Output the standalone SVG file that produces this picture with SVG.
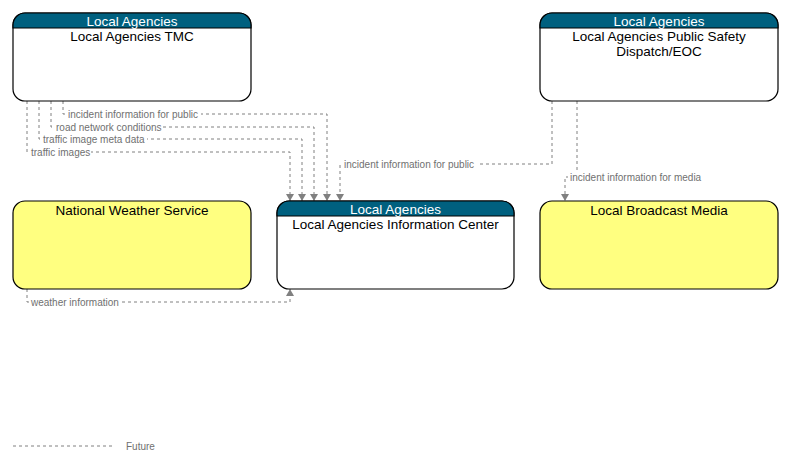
<svg xmlns="http://www.w3.org/2000/svg" width="789" height="465" viewBox="0 0 789 465">
<defs>
<style>
.box{stroke:#000;stroke-width:1.2}
.white{fill:#fff}
.yellow{fill:#ffff80}
.hdr{fill:#00607f}
.ht{font-family:"Liberation Sans",Arial,sans-serif;font-size:13.5px;fill:#fff;text-anchor:middle}
.nt{font-family:"Liberation Sans",Arial,sans-serif;font-size:13.5px;fill:#000;text-anchor:middle}
.fl{fill:none;stroke:#808080;stroke-width:1;stroke-dasharray:3,3}
.lbl{font-family:"Liberation Sans",Arial,sans-serif;font-size:10px;fill:#707070}
.bg{fill:#fff}
</style>
<marker id="arr" viewBox="0 0 8 8" refX="4" refY="8" markerWidth="8" markerHeight="8" markerUnits="userSpaceOnUse">
<path d="M0,1 L8,1 L4,8 z" fill="#808080"/>
</marker>
<marker id="arrUp" viewBox="0 0 8 8" refX="4" refY="0" markerWidth="8" markerHeight="8" markerUnits="userSpaceOnUse">
<path d="M0,7 L8,7 L4,0 z" fill="#808080"/>
</marker>
</defs>
<rect width="789" height="465" fill="#fff"/>

<g id="connectors">
<polyline class="fl" points="63,101 63,114 327,114 327,201" marker-end="url(#arr)"/>
<polyline class="fl" points="51,101 51,127 314,127 314,201" marker-end="url(#arr)"/>
<polyline class="fl" points="39,101 39,139 302,139 302,201" marker-end="url(#arr)"/>
<polyline class="fl" points="27,101 27,152 290,152 290,201" marker-end="url(#arr)"/>
<polyline class="fl" points="552,101 552,164 340,164 340,201" marker-end="url(#arr)"/>
<polyline class="fl" points="577,101 577,177 565,177 565,201" marker-end="url(#arr)"/>
<polyline class="fl" points="27,289 27,302 290,302 290,289" marker-end="url(#arrUp)"/>
<rect class="bg" x="66" y="109" width="135" height="10"/>
<text class="lbl" x="68" y="117.5">incident information for public</text>
<rect class="bg" x="54" y="122" width="108" height="10"/>
<text class="lbl" x="56" y="130.5">road network conditions</text>
<rect class="bg" x="41" y="134" width="106" height="10"/>
<text class="lbl" x="43" y="142.5">traffic image meta data</text>
<rect class="bg" x="29" y="147" width="62" height="10"/>
<text class="lbl" x="31" y="155.5">traffic images</text>
<rect class="bg" x="342" y="159" width="135" height="10"/>
<text class="lbl" x="344" y="167.5">incident information for public</text>
<rect class="bg" x="568" y="172" width="135" height="10"/>
<text class="lbl" x="570" y="180.5">incident information for media</text>
<rect class="bg" x="29" y="297" width="91" height="10"/>
<text class="lbl" x="31" y="305.5">weather information</text>
</g>

<g id="tmc">
<rect class="box white" x="13" y="13" width="238" height="88" rx="12"/>
<path class="box hdr" d="M13,28 L13,25 A12,12 0 0 1 25,13 L239,13 A12,12 0 0 1 251,25 L251,28 Z"/>
<text class="ht" x="132" y="25.5">Local Agencies</text>
<text class="nt" x="132" y="40.5">Local Agencies TMC</text>
</g>

<g id="psd">
<rect class="box white" x="540" y="13" width="238" height="88" rx="12"/>
<path class="box hdr" d="M540,28 L540,25 A12,12 0 0 1 552,13 L766,13 A12,12 0 0 1 778,25 L778,28 Z"/>
<text class="ht" x="659" y="25.5">Local Agencies</text>
<text class="nt" x="659" y="40.5">Local Agencies Public Safety</text>
<text class="nt" x="659" y="55.5">Dispatch/EOC</text>
</g>

<g id="nws">
<rect class="box yellow" x="13" y="201" width="238" height="88" rx="12"/>
<text class="nt" x="132" y="214.5">National Weather Service</text>
</g>

<g id="info">
<rect class="box white" x="277" y="201" width="237" height="88" rx="12"/>
<path class="box hdr" d="M277,216 L277,213 A12,12 0 0 1 289,201 L502,201 A12,12 0 0 1 514,213 L514,216 Z"/>
<text class="ht" x="395.5" y="213.5">Local Agencies</text>
<text class="nt" x="395.5" y="228.5">Local Agencies Information Center</text>
</g>

<g id="media">
<rect class="box yellow" x="540" y="201" width="238" height="88" rx="12"/>
<text class="nt" x="659" y="214.5">Local Broadcast Media</text>
</g>

<g id="legend">
<line class="fl" x1="13" y1="446" x2="112" y2="446"/>
<text class="lbl" x="126" y="449.5">Future</text>
</g>
</svg>
